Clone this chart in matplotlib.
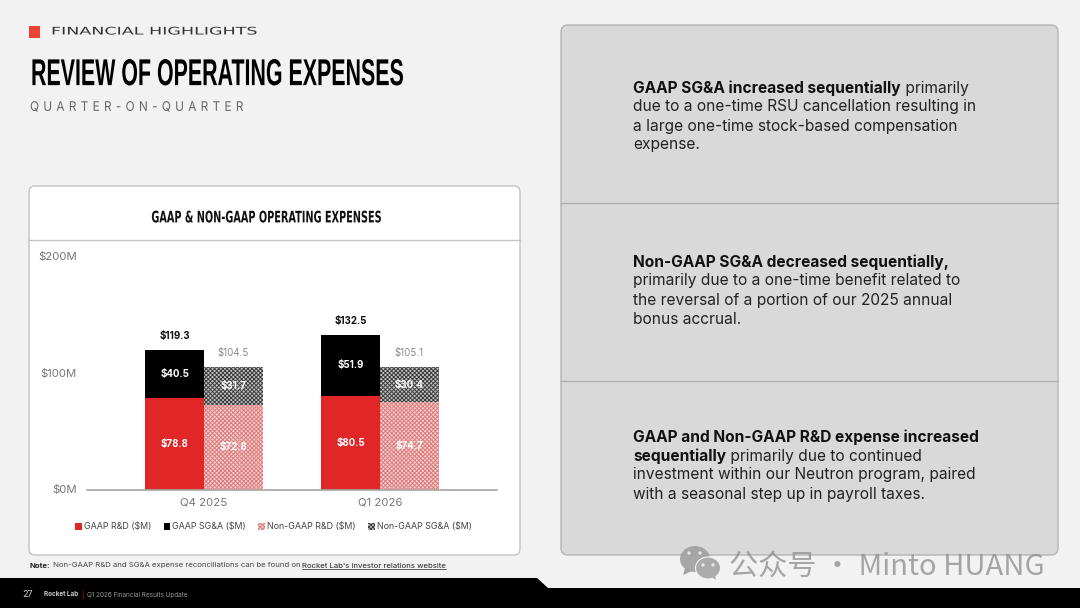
import numpy as np
import matplotlib
matplotlib.use("Agg")
import matplotlib.pyplot as plt
from matplotlib.patches import FancyBboxPatch, Polygon, Rectangle, Ellipse, Circle
from matplotlib.patheffects import AbstractPathEffect
from matplotlib.transforms import Affine2D

# -----------------------------
# Data
# -----------------------------
quarters = ["Q4 2025", "Q1 2026"]
gaap_rd = [78.8, 80.5]
gaap_sga = [40.5, 51.9]
non_gaap_rd = [72.8, 74.7]
non_gaap_sga = [31.7, 30.4]
gaap_total = ["$119.3", "$132.5"]
non_gaap_total = ["$104.5", "$105.1"]
y_ticks = [0, 100, 200]
y_tick_labels = ["$0M", "$100M", "$200M"]

panel_text = [
    [("GAAP SG&A increased sequentially", " primarily"),
     ("", "due to a one-time RSU cancellation resulting in"),
     ("", "a large one-time stock-based compensation"),
     ("", "expense.")],
    [("Non-GAAP SG&A decreased sequentially,", ""),
     ("", "primarily due to a one-time benefit related to"),
     ("", "the reversal of a portion of our 2025 annual"),
     ("", "bonus accrual.")],
    [("GAAP and Non-GAAP R&D expense increased", ""),
     ("sequentially", " primarily due to continued"),
     ("", "investment within our Neutron program, paired"),
     ("", "with a seasonal step up in payroll taxes.")],
]
panel_first_line = [88, 262, 437]

BODY = "Inter"
RED = "#e02626"

plt.rcParams["font.family"] = [BODY, "DejaVu Sans"]
plt.rcParams["hatch.linewidth"] = 0.7


class StretchY(AbstractPathEffect):
    # no condensed or extended font installed, so pull the glyph outlines taller or flatter about y0 (page pixels)
    def __init__(self, sy, y0):
        super().__init__()
        self.sy = sy
        self.y0 = 608 - y0

    def draw_path(self, renderer, gc, tpath, affine, rgbFace=None):
        pull = Affine2D().translate(0, -self.y0).scale(1, self.sy).translate(0, self.y0)
        renderer.draw_path(gc, tpath, affine + pull, rgbFace)


W, H = 1080, 608
fig = plt.figure(figsize=(W / 100, H / 100), dpi=100, facecolor="#f2f2f2")

# page layer, in pixels
bg = fig.add_axes([0, 0, 1, 1], zorder=0)
bg.set_xlim(0, W)
bg.set_ylim(H, 0)
bg.axis("off")

bg.add_patch(Rectangle((29, 26), 11, 12, color="#ea4335", lw=0))
bg.text(51, 31.5, "FINANCIAL HIGHLIGHTS", fontsize=12.6, color="#333333", va="center",
        family="DejaVu Sans", path_effects=[StretchY(0.6, 31.5)])
bg.text(31, 75.5, "REVIEW OF OPERATING EXPENSES", fontsize=15.4, fontweight="bold", color="black",
        va="center", family="Liberation Sans", path_effects=[StretchY(1.75, 75.5)])
bg.text(30, 107.5, "\u2009\u2009".join("QUARTER-ON-QUARTER"), fontsize=8.5, color="#666666", va="center",
        path_effects=[StretchY(1.12, 107.5)])

# chart card
bg.add_patch(FancyBboxPatch((29, 186), 491, 369, boxstyle="round,pad=0,rounding_size=6",
                            fc="white", ec="#c4c4c4", lw=1))
bg.plot([29, 520], [240, 240], color="#c4c4c4", lw=1)
bg.text(266.5, 217.5, "GAAP & NON-GAAP OPERATING EXPENSES", fontsize=7.0, fontweight="bold",
        color="#111111", ha="center", va="center", family="DejaVu Sans",
        path_effects=[StretchY(1.64, 217.5)])

# right hand panel
bg.add_patch(FancyBboxPatch((561, 25), 497, 530, boxstyle="round,pad=0,rounding_size=7",
                            fc="#d9d9d9", ec="#b4b4b4", lw=1))
bg.plot([561, 1058], [202.5, 202.5], color="#b0b0b0", lw=1)
bg.plot([561, 1058], [380.5, 380.5], color="#b0b0b0", lw=1)

fig.canvas.draw()
renderer = fig.canvas.get_renderer()
for top, lines in zip(panel_first_line, panel_text):
    for i, (bold, regular) in enumerate(lines):
        y = top + i * 19
        x = 633
        if bold:
            t = bg.text(x, y, bold, fontsize=11.15, fontweight="bold", color="#111111", va="center")
            x += t.get_window_extent(renderer).width
        if regular:
            bg.text(x, y, regular, fontsize=11.15, color="#222222", va="center")

# note and footer
note = bg.text(30, 565.5, "Note:", fontsize=5.6, fontweight="bold", color="#222222", va="center")
nx = 30 + note.get_window_extent(renderer).width
n2 = bg.text(nx, 565.5, " Non-GAAP R&D and SG&A expense reconciliations can be found on ", fontsize=5.6,
             color="#444444", va="center")
nx += n2.get_window_extent(renderer).width
n3 = bg.text(nx, 565.5, "Rocket Lab's investor relations website", fontsize=5.6, color="#222222", va="center")
bg.plot([nx, nx + n3.get_window_extent(renderer).width], [569, 569], color="#222222", lw=0.5)

bg.add_patch(Polygon([(0, 578), (537, 578), (548, 588), (1080, 588), (1080, 608), (0, 608)],
                     fc="black", ec="none"))
bg.text(22, 594.5, "27", fontsize=6.5, color="#cccccc", va="center")
bg.text(44, 594.5, "Rocket Lab", fontsize=4.6, fontweight="bold", color="#cccccc", va="center")
bg.text(81, 594.5, "|", fontsize=4.6, color=RED, va="center")
bg.text(87, 594.5, "Q1 2026 Financial Results Update", fontsize=4.6, color="#999999", va="center")

# -----------------------------
# Chart
# -----------------------------
ax = fig.add_axes([87 / W, 1 - 489.5 / H, 410 / W, 233.5 / H], zorder=1)
ax.patch.set_alpha(0)
x = np.arange(len(quarters))
bw = 0.335

b1 = ax.bar(x - bw / 2, gaap_rd, bw, color=RED, lw=0, label="GAAP R&D ($M)")
b2 = ax.bar(x - bw / 2, gaap_sga, bw, bottom=gaap_rd, color="black", lw=0, label="GAAP SG&A ($M)")
b3 = ax.bar(x + bw / 2, non_gaap_rd, bw, facecolor="#f6d0d0", edgecolor="#dc7c7c", hatch="xxxxxxxx", lw=0,
            label="Non-GAAP R&D ($M)")
b4 = ax.bar(x + bw / 2, non_gaap_sga, bw, bottom=non_gaap_rd, facecolor="#c4c4c4", edgecolor="#3c3c3c",
            hatch="xxxxxxxx", lw=0, label="Non-GAAP SG&A ($M)")

for bars in (b1, b2, b3, b4):
    ax.bar_label(bars, labels=[f"${v.get_height():.1f}" for v in bars], label_type="center",
                 color="white", fontsize=7, fontweight="bold")

for i in range(len(quarters)):
    ax.annotate(gaap_total[i], (x[i] - bw / 2, gaap_rd[i] + gaap_sga[i]), xytext=(0, 14),
                textcoords="offset pixels", ha="center", va="center", fontsize=7, fontweight="bold",
                color="#111111")
    ax.annotate(non_gaap_total[i], (x[i] + bw / 2, non_gaap_rd[i] + non_gaap_sga[i]), xytext=(0, 14),
                textcoords="offset pixels", ha="center", va="center", fontsize=7, color="#8a8a8a")

ax.set_xlim(-0.665, 1.665)
ax.set_ylim(0, 200)
ax.set_xticks(x, quarters)
ax.set_yticks(y_ticks, y_tick_labels)
ax.tick_params(axis="both", length=0, labelsize=8.2, labelcolor="#777777")
ax.tick_params(axis="x", pad=6)
ax.tick_params(axis="y", pad=7.5)
for s in ("top", "left", "right"):
    ax.spines[s].set_visible(False)
ax.spines["bottom"].set_color("#a6a6a6")
ax.spines["bottom"].set_linewidth(1.2)

ax.legend(loc="center", bbox_to_anchor=(273.5 / W, 1 - 527 / H), bbox_transform=fig.transFigure, ncol=4,
          frameon=False, fontsize=6.4, labelcolor="#444444", handlelength=0.75, handleheight=0.75,
          handletextpad=0.25, columnspacing=1.37, borderpad=0)

# -----------------------------
# Watermark
# -----------------------------
wm = fig.add_axes([0, 0, 1, 1], zorder=2)
wm.set_xlim(0, W)
wm.set_ylim(H, 0)
wm.axis("off")
grey = "#a3a3a3"
wm.add_patch(Ellipse((695, 559), 30, 26, fc=grey, ec="none", alpha=0.95))
wm.add_patch(Polygon([(685, 568), (683, 575), (692, 571)], fc=grey, ec="none"))
wm.add_patch(Ellipse((708, 568), 25, 22, fc="#ababab", ec="#f2f2f2", lw=0.8))
wm.add_patch(Polygon([(712, 577), (716, 580), (715, 574)], fc="#ababab", ec="none"))
for cx, cy in [(689, 553), (700, 553), (703, 565), (713, 565)]:
    wm.add_patch(Circle((cx, cy), 1.7, fc="#e6e6e6", ec="none"))
wm.text(729, 568, "公众号 · Minto HUANG", fontsize=21, color="#8c8c8c", alpha=0.75, va="center",
        family=["Noto Sans CJK SC", "DejaVu Sans"])

fig.savefig("out.png", dpi=100, facecolor=fig.get_facecolor())
